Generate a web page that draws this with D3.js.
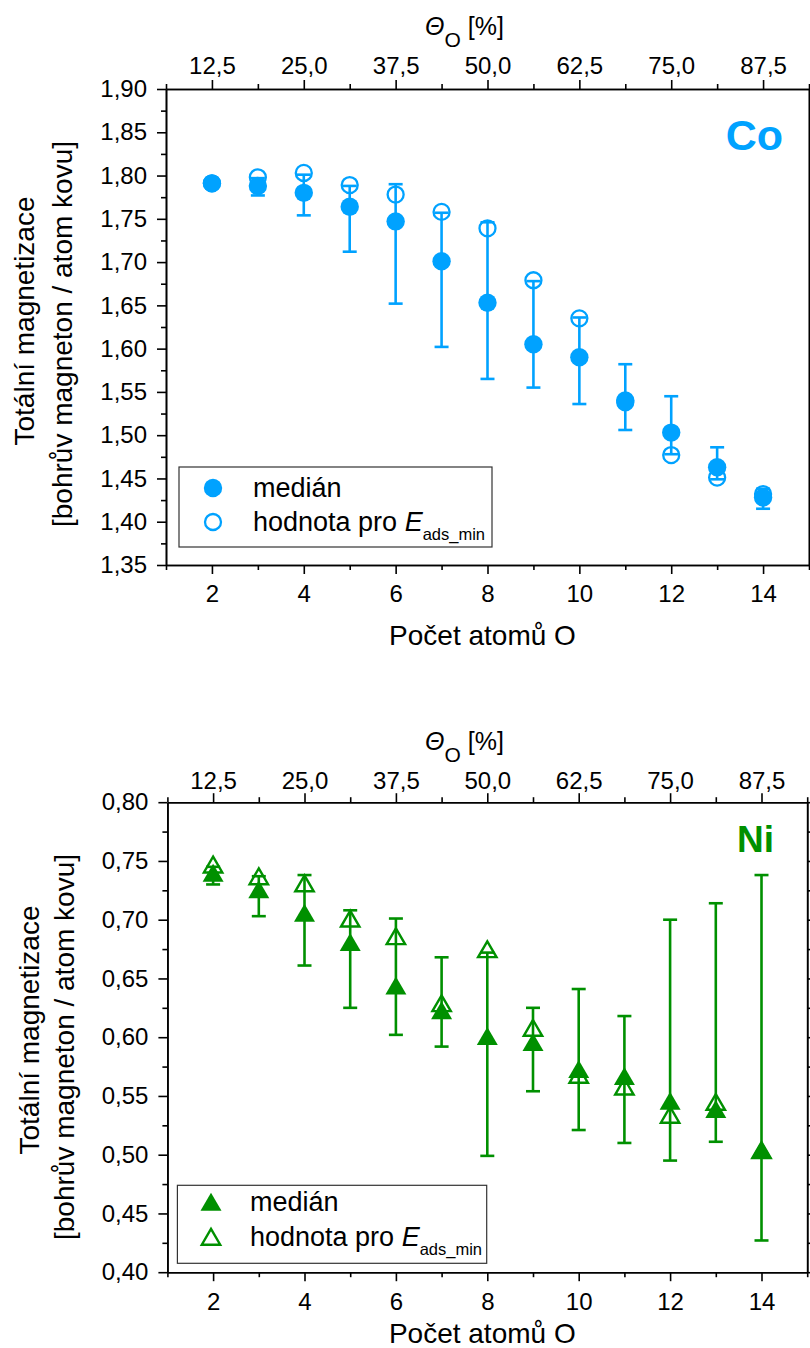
<!DOCTYPE html>
<html>
<head>
<meta charset="utf-8">
<script src="https://cdn.jsdelivr.net/npm/d3@7"></script>
<style>
  body { margin: 0; background: #fff; }
  svg { display: block; font-family: "Liberation Sans", Arial, Helvetica, sans-serif; }
</style>
</head>
<body>
<svg id="fig" width="810" height="1348"></svg>
<script>
// ---- data: number of adsorbed O atoms and total magnetisation ----
const oAtoms = [2, 3, 4, 5, 6, 7, 8, 9, 10, 11, 12, 13, 14];

// Co (Bohr magneton per metal atom)
const coMedian = [1.791, 1.788, 1.780, 1.764, 1.747, 1.701, 1.653, 1.605, 1.590, 1.540, 1.503, 1.463, 1.428];
const coEmin   = [1.791, 1.798, 1.803, 1.789, 1.778, 1.758, 1.739, 1.679, 1.635, 1.538, 1.477, 1.451, 1.432];
const coLow    = [1.789, 1.777, 1.754, 1.712, 1.652, 1.602, 1.565, 1.555, 1.536, 1.506, 1.478, 1.449, 1.415];
const coHigh   = [1.792, 1.797, 1.801, 1.788, 1.790, 1.757, 1.746, 1.678, 1.636, 1.582, 1.545, 1.486, 1.438];

// Ni (Bohr magneton per metal atom)
const niMedian = [0.740, 0.726, 0.706, 0.681, 0.644, 0.623, 0.601, 0.596, 0.573, 0.567, 0.546, 0.539, 0.504];
const niEmin   = [0.747, 0.737, 0.731, 0.701, 0.686, 0.629, 0.675, 0.608, 0.568, 0.558, 0.534, 0.545, 0.504];
const niLow    = [0.730, 0.703, 0.661, 0.625, 0.602, 0.592, 0.499, 0.554, 0.521, 0.510, 0.495, 0.511, 0.427];
const niHigh   = [0.745, 0.737, 0.738, 0.708, 0.701, 0.668, 0.672, 0.625, 0.641, 0.618, 0.700, 0.714, 0.738];

// ---- tick values ----
const xTicks = [2, 4, 6, 8, 10, 12, 14];
const xMinorTicks = [1, 3, 5, 7, 9, 11, 13, 15];
const thetaTicks = [12.5, 25.0, 37.5, 50.0, 62.5, 75.0, 87.5];
const thetaMinorTicks = [6.25, 18.75, 31.25, 43.75, 56.25, 68.75, 81.25, 93.75];
const coYTicks = [1.35, 1.40, 1.45, 1.50, 1.55, 1.60, 1.65, 1.70, 1.75, 1.80, 1.85, 1.90];
const niYTicks = [0.40, 0.45, 0.50, 0.55, 0.60, 0.65, 0.70, 0.75, 0.80];

const svg = d3.select("#fig");
const comma = (f) => (d) => d3.format(f)(d).replace(".", ",");

function styleAxis(sel, fontSize) {
  sel.attr("font-family", null).attr("font-size", null);
  sel.select(".domain").attr("stroke", "#000").attr("stroke-width", 1.6);
  sel.selectAll(".tick line").attr("stroke", "#000").attr("stroke-width", 1.6);
  sel.selectAll(".tick text").attr("fill", "#000").style("font-size", fontSize + "px");
}

function midpoints(ticks) {
  const out = [];
  for (let i = 0; i < ticks.length - 1; i++) out.push((ticks[i] + ticks[i + 1]) / 2);
  return out;
}

function drawPanel(cfg) {
  const g = svg.append("g");
  const x = d3.scaleLinear().domain([1, 15]).range([cfg.left, cfg.right]);
  const xt = d3.scaleLinear().domain([6.25, 93.75]).range([cfg.left, cfg.right]);
  const y = d3.scaleLinear().domain(cfg.yDomain).range([cfg.bottom, cfg.top]);
  const yMinor = midpoints(cfg.yTicks);

  // left axis
  const gl = g.append("g").attr("transform", `translate(${cfg.left},0)`);
  gl.call(d3.axisLeft(y).tickValues(cfg.yTicks).tickSize(9).tickSizeOuter(0)
    .tickPadding(10).tickFormat(comma(".2f")));
  styleAxis(gl, 24);
  const glm = g.append("g").attr("transform", `translate(${cfg.left},0)`);
  glm.call(d3.axisLeft(y).tickValues(yMinor).tickSize(5).tickSizeOuter(0).tickFormat(""));
  styleAxis(glm, 24);

  // right axis
  const gr = g.append("g").attr("transform", `translate(${cfg.right},0)`);
  gr.call(d3.axisRight(y).tickValues(cfg.yTicks).tickSize(9).tickSizeOuter(0).tickFormat(""));
  styleAxis(gr, 24);
  const grm = g.append("g").attr("transform", `translate(${cfg.right},0)`);
  grm.call(d3.axisRight(y).tickValues(yMinor).tickSize(5).tickSizeOuter(0).tickFormat(""));
  styleAxis(grm, 24);

  // bottom axis
  const gb = g.append("g").attr("transform", `translate(0,${cfg.bottom})`);
  gb.call(d3.axisBottom(x).tickValues(xTicks).tickSize(9).tickSizeOuter(0).tickFormat(d3.format("d")));
  styleAxis(gb, 24);
  gb.selectAll(".tick text").attr("y", cfg.bottomLabelDy).attr("dy", null);
  const gbm = g.append("g").attr("transform", `translate(0,${cfg.bottom})`);
  gbm.call(d3.axisBottom(x).tickValues(xMinorTicks).tickSize(5).tickSizeOuter(0).tickFormat(""));
  styleAxis(gbm, 24);

  // top axis (surface coverage)
  const gt = g.append("g").attr("transform", `translate(0,${cfg.top})`);
  gt.call(d3.axisTop(xt).tickValues(thetaTicks).tickSize(9).tickSizeOuter(0).tickFormat(comma(".1f")));
  styleAxis(gt, 24);
  gt.selectAll(".tick text").attr("y", -cfg.topLabelDy).attr("dy", null);
  const gtm = g.append("g").attr("transform", `translate(0,${cfg.top})`);
  gtm.call(d3.axisTop(xt).tickValues(thetaMinorTicks).tickSize(5).tickSizeOuter(0).tickFormat(""));
  styleAxis(gtm, 24);

  // top axis title
  const tt = g.append("text").attr("x", cfg.thetaX).attr("y", cfg.top - cfg.thetaDy)
    .attr("fill", "#000").style("font-size", "25px");
  tt.append("tspan").style("font-style", "italic").text("Θ");
  tt.append("tspan").attr("dy", 12).style("font-size", "21px").text("O");
  tt.append("tspan").attr("dy", -12).text(" [%]");

  // bottom axis title
  g.append("text").attr("x", (cfg.left + cfg.right) / 2 - 5).attr("y", cfg.bottom + cfg.xTitleDy)
    .attr("text-anchor", "middle").attr("fill", "#000").style("font-size", "28px")
    .text("Počet atomů O");

  // left axis title (two lines)
  g.append("text").attr("transform", `translate(${cfg.yTitle1X},${cfg.yTitle1Y}) rotate(-90)`)
    .attr("text-anchor", "middle").attr("fill", "#000").style("font-size", "28px")
    .text("Totální magnetizace");
  g.append("text").attr("transform", `translate(${cfg.yTitle2X},${cfg.yTitle2Y}) rotate(-90)`)
    .attr("text-anchor", "middle").attr("fill", "#000").style("font-size", "28px")
    .text("[bohrův magneton / atom kovu]");

  // data layers: open markers, error bars, filled markers
  const rows = oAtoms.map((n, i) => ({
    n, med: cfg.median[i], emin: cfg.emin[i], lo: cfg.low[i], hi: cfg.high[i]
  }));
  const col = cfg.color;
  const triFill = "M0,-9L10.5,9L-10.5,9Z";
  const triOpen = "M0,-7.8L9.2,8L-9.2,8Z";

  const openG = g.append("g");
  if (cfg.marker === "circle") {
    openG.selectAll("circle").data(rows).join("circle")
      .attr("cx", d => x(d.n)).attr("cy", d => y(d.emin)).attr("r", 8)
      .attr("fill", "none").attr("stroke", col).attr("stroke-width", 2.3);
  } else {
    openG.selectAll("path").data(rows).join("path")
      .attr("d", triOpen).attr("transform", d => `translate(${x(d.n)},${y(d.emin)})`)
      .attr("fill", "none").attr("stroke", col).attr("stroke-width", 2.4)
      .attr("stroke-linejoin", "miter");
  }

  const errG = g.append("g").attr("stroke", col).attr("stroke-width", 2.6).attr("fill", "none");
  errG.selectAll("line.v").data(rows).join("line").attr("class", "v")
    .attr("x1", d => x(d.n)).attr("x2", d => x(d.n))
    .attr("y1", d => y(d.lo)).attr("y2", d => y(d.hi));
  errG.selectAll("line.lo").data(rows).join("line").attr("class", "lo")
    .attr("x1", d => x(d.n) - 7).attr("x2", d => x(d.n) + 7)
    .attr("y1", d => y(d.lo)).attr("y2", d => y(d.lo));
  errG.selectAll("line.hi").data(rows).join("line").attr("class", "hi")
    .attr("x1", d => x(d.n) - 7).attr("x2", d => x(d.n) + 7)
    .attr("y1", d => y(d.hi)).attr("y2", d => y(d.hi));

  const fillG = g.append("g");
  if (cfg.marker === "circle") {
    fillG.selectAll("circle").data(rows).join("circle")
      .attr("cx", d => x(d.n)).attr("cy", d => y(d.med)).attr("r", 9.2)
      .attr("fill", col);
  } else {
    fillG.selectAll("path").data(rows).join("path")
      .attr("d", triFill).attr("transform", d => `translate(${x(d.n)},${y(d.med)})`)
      .attr("fill", col);
  }

  // element label
  g.append("text").attr("x", cfg.labelX).attr("y", cfg.labelY).attr("text-anchor", "end")
    .attr("fill", col).style("font-size", cfg.labelSize + "px").style("font-weight", "bold")
    .text(cfg.label);

  // legend
  const L = cfg.legend;
  g.append("rect").attr("x", L.x0).attr("y", L.y0).attr("width", L.x1 - L.x0).attr("height", L.y1 - L.y0)
    .attr("fill", "#fff").attr("stroke", "#333").attr("stroke-width", 1.2);
  if (cfg.marker === "circle") {
    g.append("circle").attr("cx", L.mx).attr("cy", L.row1).attr("r", 9.2).attr("fill", col);
    g.append("circle").attr("cx", L.mx).attr("cy", L.row2).attr("r", 8)
      .attr("fill", "none").attr("stroke", col).attr("stroke-width", 2.3);
  } else {
    g.append("path").attr("d", triFill).attr("transform", `translate(${L.mx},${L.row1})`).attr("fill", col);
    g.append("path").attr("d", triOpen).attr("transform", `translate(${L.mx},${L.row2})`)
      .attr("fill", "none").attr("stroke", col).attr("stroke-width", 2.4);
  }
  g.append("text").attr("x", L.tx).attr("y", L.row1 + 9).attr("fill", "#000")
    .style("font-size", "27px").text("medián");
  const t2 = g.append("text").attr("x", L.tx).attr("y", L.row2 + 9).attr("fill", "#000")
    .style("font-size", "27px");
  t2.append("tspan").text("hodnota pro ");
  t2.append("tspan").style("font-style", "italic").text("E");
  t2.append("tspan").attr("dy", 9).style("font-size", "16.5px").text("ads_min");
}

drawPanel({
  left: 166, right: 809, top: 89, bottom: 565,
  yDomain: [1.35, 1.90], yTicks: coYTicks,
  median: coMedian, emin: coEmin, low: coLow, high: coHigh,
  color: "#00a2ff", marker: "circle",
  bottomLabelDy: 37, topLabelDy: 15.5, xTitleDy: 80,
  thetaX: 425, thetaDy: 54,
  yTitle1X: 34, yTitle1Y: 321, yTitle2X: 72, yTitle2Y: 334,
  label: "Co", labelX: 783, labelY: 150, labelSize: 43,
  legend: { x0: 179, x1: 492, y0: 467, y1: 547, mx: 213, row1: 488, row2: 522, tx: 253 }
});

drawPanel({
  left: 167.4, right: 807.2, top: 802.2, bottom: 1272.2,
  yDomain: [0.40, 0.80], yTicks: niYTicks,
  median: niMedian, emin: niEmin, low: niLow, high: niHigh,
  color: "#009000", marker: "triangle",
  bottomLabelDy: 38, topLabelDy: 13, xTitleDy: 71,
  thetaX: 425, thetaDy: 52,
  yTitle1X: 39, yTitle1Y: 1030, yTitle2X: 74, yTitle2Y: 1047,
  label: "Ni", labelX: 774, labelY: 852, labelSize: 37,
  legend: { x0: 177.4, x1: 486.7, y0: 1185.3, y1: 1263.3, mx: 211, row1: 1201.7, row2: 1236.7, tx: 250 }
});
</script>
</body>
</html>
